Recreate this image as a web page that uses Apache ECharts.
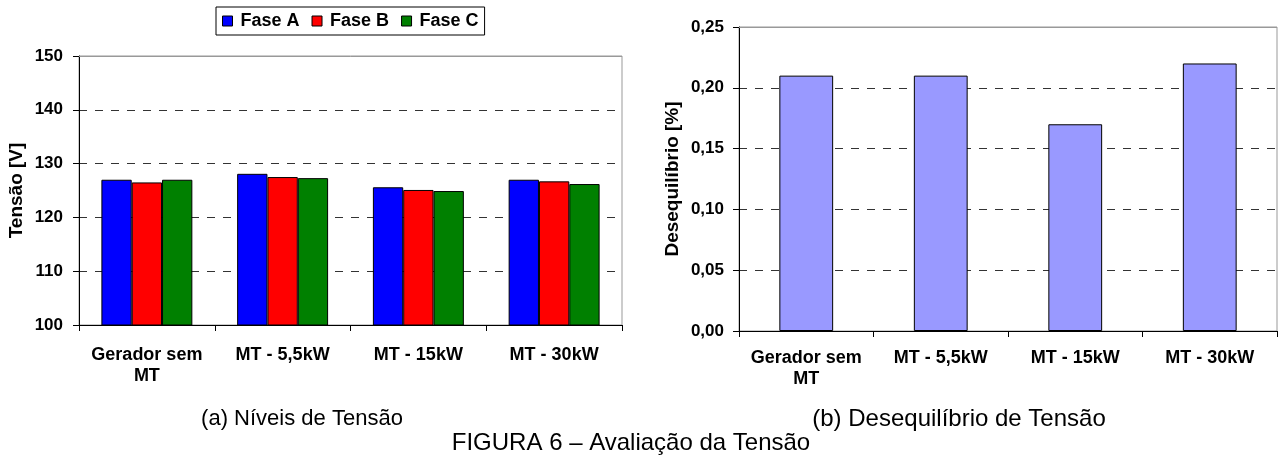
<!DOCTYPE html>
<html>
<head>
<meta charset="utf-8">
<script src="https://cdn.jsdelivr.net/npm/echarts@6/dist/echarts.min.js"></script>
<style>
html,body{margin:0;padding:0;background:#fff;}
#c{width:1279px;height:459px;}
</style>
</head>
<body>
<div id="c"></div>
<script>
// ---- data ----
const categories = ['Gerador sem\nMT', 'MT - 5,5kW', 'MT - 15kW', 'MT - 30kW'];
const faseA = [127.0, 128.1, 125.6, 127.0];
const faseB = [126.5, 127.5, 125.1, 126.7];
const faseC = [127.0, 127.3, 124.9, 126.2];
const desequilibrio = [0.21, 0.21, 0.17, 0.22];
const tensaoTicks = [100, 110, 120, 130, 140, 150];
const desTicks = ['0,00', '0,05', '0,10', '0,15', '0,20', '0,25'];
const captionA = '(a) Níveis de Tensão';
const captionB = '(b) Desequilíbrio de Tensão';
const figTitle = 'FIGURA 6 – Avaliação da Tensão';

const FONT = '"Liberation Sans", Arial, sans-serif';

const chart = echarts.init(document.getElementById('c'), null, {renderer: 'canvas'});

function barSeries(name, data, color) {
  return {
    name: name, type: 'bar', xAxisIndex: 0, yAxisIndex: 0, data: data,
    barGap: '0%', barCategoryGap: '33%',
    itemStyle: {color: color, borderColor: '#000', borderWidth: 1},
    animation: false
  };
}

const sA = barSeries('Fase A', faseA, '#0000FF');
sA.markLine = {
  silent: true, symbol: 'none', animation: false, label: {show: false},
  lineStyle: {color: '#999', type: 'solid', width: 1},
  data: [{yAxis: tensaoTicks[tensaoTicks.length - 1]}]
};

const option = {
  backgroundColor: '#fff',
  animation: false,
  textStyle: {fontFamily: FONT},
  legend: {
    data: ['Fase A', 'Fase B', 'Fase C'],
    left: 216, top: 7,
    orient: 'horizontal',
    padding: [5, 6, 5, 6],
    itemGap: 12,
    itemWidth: 10, itemHeight: 10,
    borderColor: '#000', borderWidth: 1,
    backgroundColor: '#fff',
    icon: 'rect',
    itemStyle: {borderColor: '#000', borderWidth: 1},
    textStyle: {fontFamily: FONT, fontWeight: 'bold', fontSize: 18, color: '#000', padding: [0, 0, 0, 3]}
  },
  grid: [
    {left: 79, right: 657, top: 56, bottom: 134, show: true, borderColor: '#999', borderWidth: 1, backgroundColor: '#fff'},
    {left: 739, right: 2, top: 27, bottom: 128, show: true, borderColor: '#999', borderWidth: 1, backgroundColor: '#fff'}
  ],
  xAxis: [
    {
      type: 'category', gridIndex: 0, data: categories,
      axisLine: {show: true, lineStyle: {color: '#000', width: 1}},
      axisTick: {show: true, length: 6, inside: false, lineStyle: {color: '#000'}},
      axisLabel: {fontFamily: FONT, fontWeight: 'bold', fontSize: 18, color: '#000', margin: 20, lineHeight: 21, interval: 0},
      splitLine: {show: false}
    },
    {
      type: 'category', gridIndex: 1, data: categories,
      axisLine: {show: true, lineStyle: {color: '#000', width: 1}},
      axisTick: {show: true, length: 6, inside: false, lineStyle: {color: '#000'}},
      axisLabel: {fontFamily: FONT, fontWeight: 'bold', fontSize: 18, color: '#000', margin: 17, lineHeight: 21, interval: 0},
      splitLine: {show: false}
    }
  ],
  yAxis: [
    {
      type: 'value', gridIndex: 0,
      min: tensaoTicks[0], max: tensaoTicks[tensaoTicks.length - 1], interval: 10,
      name: 'Tensão [V]', nameLocation: 'middle', nameGap: 53,
      nameTextStyle: {fontFamily: FONT, fontWeight: 'bold', fontSize: 19, color: '#000'},
      axisLine: {show: true, lineStyle: {color: '#000', width: 1}},
      axisTick: {show: true, length: 6, lineStyle: {color: '#000'}},
      axisLabel: {fontFamily: FONT, fontWeight: 'bold', fontSize: 17, color: '#000', margin: 16},
      splitLine: {show: true, lineStyle: {color: '#333', type: [8, 8], width: 1}}
    },
    {
      type: 'value', gridIndex: 1,
      min: 0, max: 0.25, interval: 0.05,
      name: 'Desequilíbrio [%]', nameLocation: 'middle', nameGap: 57,
      nameTextStyle: {fontFamily: FONT, fontWeight: 'bold', fontSize: 19, color: '#000'},
      axisLine: {show: true, lineStyle: {color: '#000', width: 1}},
      axisTick: {show: true, length: 6, lineStyle: {color: '#000'}},
      axisLabel: {
        fontFamily: FONT, fontWeight: 'bold', fontSize: 17, color: '#000', margin: 15,
        formatter: function (v) { return desTicks[Math.round(v / 0.05)]; }
      },
      splitLine: {show: true, lineStyle: {color: '#333', type: [8, 8], width: 1}}
    }
  ],
  series: [
    sA,
    barSeries('Fase B', faseB, '#FF0000'),
    barSeries('Fase C', faseC, '#008000'),
    {
      name: 'Desequilíbrio', type: 'bar', xAxisIndex: 1, yAxisIndex: 1, data: desequilibrio,
      barCategoryGap: '60%',
      itemStyle: {color: '#9999FF', borderColor: '#000', borderWidth: 1},
      markLine: {
        silent: true, symbol: 'none', animation: false, label: {show: false},
        lineStyle: {color: '#999', type: 'solid', width: 1},
        data: [{yAxis: 0.25}]
      },
      animation: false
    }
  ],
  graphic: [
    {type: 'text', x: 302, y: 419, z: 10, style: {text: captionA, font: '22px ' + FONT, fill: '#000', textAlign: 'center', textVerticalAlign: 'middle'}},
    {type: 'text', x: 959, y: 419, z: 10, style: {text: captionB, font: '24px ' + FONT, fill: '#000', textAlign: 'center', textVerticalAlign: 'middle'}},
    {type: 'text', x: 631, y: 443, z: 10, style: {text: figTitle, font: '24px ' + FONT, fill: '#000', textAlign: 'center', textVerticalAlign: 'middle'}}
  ]
};
chart.setOption(option);
</script>
</body>
</html>
